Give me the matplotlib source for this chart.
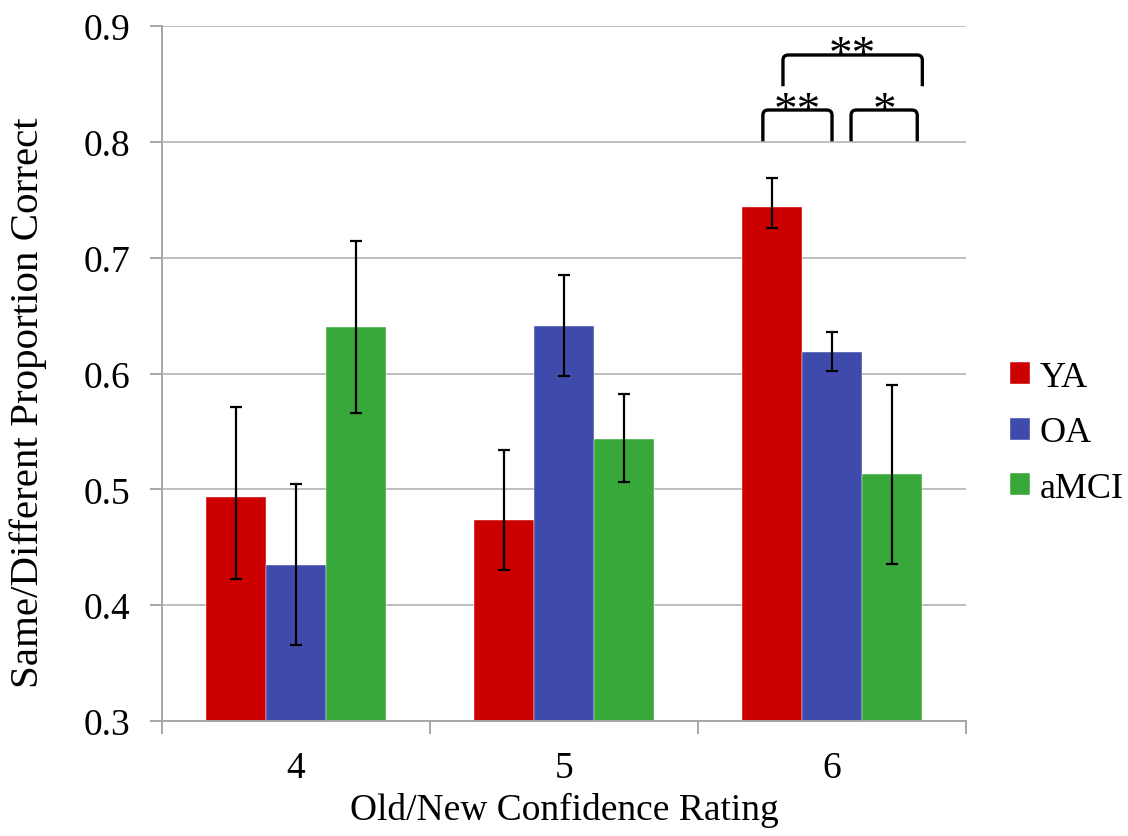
import matplotlib
matplotlib.use("Agg")
import matplotlib.pyplot as plt
from matplotlib.path import Path
from matplotlib.patches import PathPatch
from matplotlib.transforms import offset_copy
import numpy as np

plt.rcParams['font.family'] = ['Liberation Serif', 'DejaVu Serif']

ratings = ["4", "5", "6"]
groups = ["YA", "OA", "aMCI"]
colors = ["#CC0000", "#3F4BAA", "#38A83A"]

ya_mean = [0.493, 0.4735, 0.7435]
oa_mean = [0.435, 0.641, 0.619]
amci_mean = [0.640, 0.5435, 0.513]

ya_upper = [0.571, 0.534, 0.769]
ya_lower = [0.423, 0.430, 0.726]
oa_upper = [0.505, 0.685, 0.636]
oa_lower = [0.366, 0.598, 0.602]
amci_upper = [0.714, 0.582, 0.590]
amci_lower = [0.566, 0.506, 0.4355]

# significance brackets in rating 6: (left bar, right bar, label, level)
sig_pairs = [(0, 1, "**", 0), (1, 2, "*", 0), (0, 2, "**", 1)]

means = [ya_mean, oa_mean, amci_mean]
uppers = [ya_upper, oa_upper, amci_upper]
lowers = [ya_lower, oa_lower, amci_lower]

fig = plt.figure(figsize=(11.28, 8.37), dpi=100)
ax = fig.add_axes([0.1436, 0.1374, 0.7128, 0.8303])

x = np.arange(1, len(ratings) + 1)
width = 0.224
offsets = [-width, 0.0, width]

for g, name in enumerate(groups):
    m = np.array(means[g])
    err = np.vstack([m - np.array(lowers[g]), np.array(uppers[g]) - m])
    ax.bar(x + offsets[g], m - 0.3, width, bottom=0.3, color=colors[g],
           edgecolor="white", linewidth=0.3, label=name, zorder=2)
    ax.errorbar(x + offsets[g], m, yerr=err, fmt="none", ecolor="black",
                elinewidth=1.6, capsize=4.5, capthick=1.6, zorder=3)

ax.set_xlim(0.5, 3.5)
ax.set_ylim(0.3, 0.9)
ax.set_yticks(np.arange(0.3, 0.91, 0.1))
ax.set_yticklabels([f"{v:.1f}" for v in np.arange(0.3, 0.91, 0.1)])
ax.set_xticks(x)
ax.set_xticklabels(ratings)
ax.set_xticks([0.5, 1.5, 2.5, 3.5], minor=True)
ax.tick_params(axis="x", which="major", length=0, labelsize=27, pad=21)
ax.tick_params(axis="x", which="minor", length=9, width=1.4, color="#A6A6A6")
ax.tick_params(axis="y", which="major", length=9, width=1.4, color="#A6A6A6",
               labelsize=27, pad=14)

ax.yaxis.grid(True, color="#C0C0C0", linewidth=1.4, zorder=0)
ax.set_axisbelow(True)
for side in ["top", "right"]:
    ax.spines[side].set_visible(False)
for side in ["left", "bottom"]:
    ax.spines[side].set_color("#A6A6A6")
    ax.spines[side].set_linewidth(1.4)

ax.set_xlabel("Old/New Confidence Rating", fontsize=27, labelpad=5)
ax.set_ylabel("Same/Different Proportion Correct", fontsize=29.5)
ax.yaxis.set_label_coords(-0.143, 0.46)

leg = ax.legend(loc="center left", bbox_to_anchor=(0.8954, 0.4815),
                bbox_transform=fig.transFigure, frameon=False,
                borderpad=0, borderaxespad=0,
                fontsize=26, handlelength=0.55, handleheight=0.55,
                handletextpad=0.28, labelspacing=0.62)


def bracket(x0, x1, ytop, ybot, rx=0.02, ry=0.0045):
    verts = [(x0, ybot), (x0, ytop - ry), (x0, ytop), (x0 + rx, ytop),
             (x1 - rx, ytop), (x1, ytop), (x1, ytop - ry), (x1, ybot)]
    codes = [Path.MOVETO, Path.LINETO, Path.CURVE3, Path.CURVE3,
             Path.LINETO, Path.CURVE3, Path.CURVE3, Path.LINETO]
    return PathPatch(Path(verts, codes), fill=False, edgecolor="black",
                     linewidth=2.4, capstyle="butt", joinstyle="round",
                     clip_on=False, zorder=4)


bar_x = [x[2] + o for o in offsets]
level_top = [0.8275, 0.875]
level_bot = [0.8005, 0.848]
star_tr = offset_copy(ax.transData, fig=fig, x=0, y=-9, units="points")
for left, right, label, lvl in sig_pairs:
    if lvl == 0:
        x0 = bar_x[left] - 0.034 if left == 0 else bar_x[left] + 0.071
        x1 = bar_x[right] if right == 1 else bar_x[right] + 0.094
    else:
        x0 = bar_x[left] + 0.041
        x1 = bar_x[right] + 0.113
    ax.add_patch(bracket(x0, x1, level_top[lvl], level_bot[lvl]))
    ax.text((x0 + x1) / 2, level_top[lvl], label, transform=star_tr,
            ha="center", va="baseline", fontsize=34, clip_on=False)

fig.savefig("out.png", dpi=100)
